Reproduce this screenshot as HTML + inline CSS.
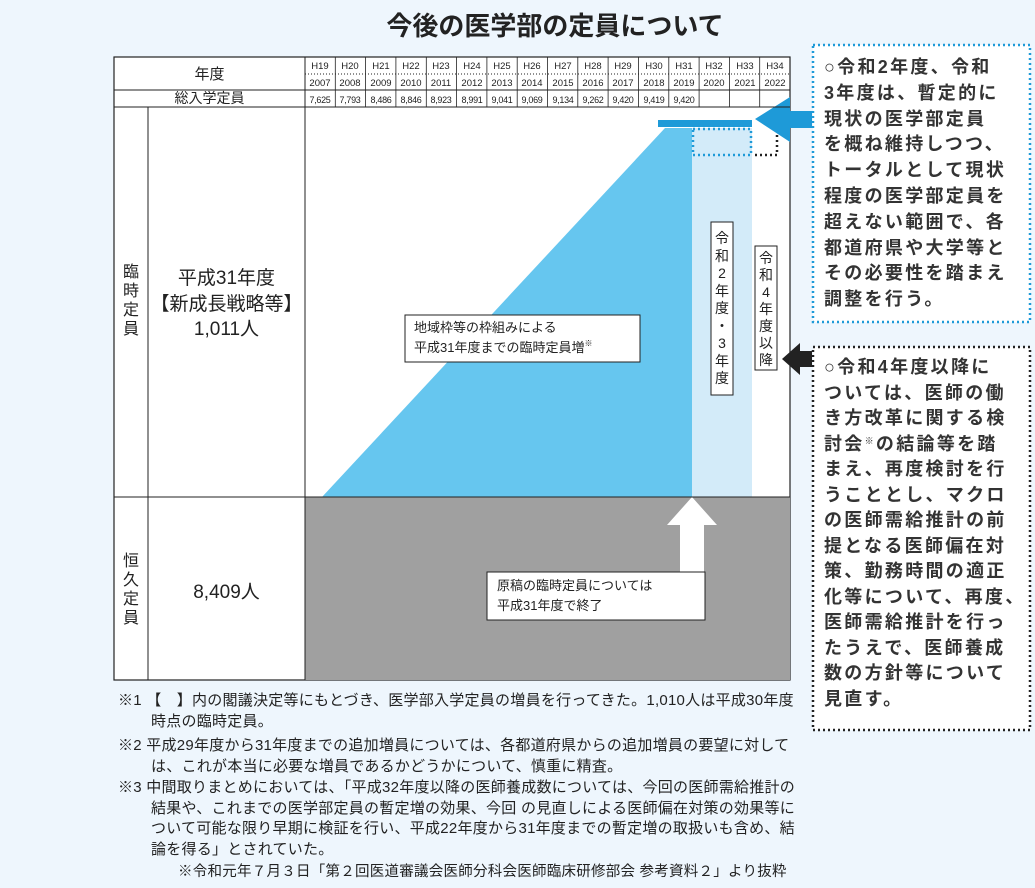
<!DOCTYPE html>
<html><head><meta charset="utf-8"><style>
body{margin:0;width:1035px;height:888px;background:#eef6fd;position:relative;overflow:hidden;font-family:"Liberation Sans","Noto Sans CJK JP",sans-serif;color:#222}
.a{position:absolute}
.fn{position:absolute;left:118px;font-size:15px;line-height:20.5px;width:700px;white-space:nowrap;letter-spacing:0.25px}
.rb{position:absolute;left:824px;font-size:18px;line-height:25.8px;font-weight:bold;color:#333;letter-spacing:2.3px;white-space:nowrap}
sup{line-height:0;vertical-align:6px}
</style></head><body>
<div class="a" style="left:0;width:1110px;top:6px;text-align:center;font-size:26px;font-weight:bold;color:#222">今後の医学部の定員について</div>
<svg class="a" style="left:0;top:0" width="1035" height="888" xmlns="http://www.w3.org/2000/svg">
<rect x="114" y="57" width="676" height="623" fill="#fff" stroke="#222" stroke-width="1.2"/>
<rect x="305" y="497" width="485" height="183" fill="#a0a0a0"/>
<polygon points="322,497 665,128 692,128 692,497" fill="#66c6ef"/>
<rect x="692" y="128" width="60" height="369" fill="#d3ebf9"/>
<rect x="658" y="120" width="94" height="7" fill="#1e9ad8"/>
<rect x="693" y="129" width="58" height="26" fill="none" stroke="#1e9ad8" stroke-width="2.5" stroke-dasharray="2,3"/>
<path d="M777,130 V155 H754" fill="none" stroke="#222" stroke-width="2.5" stroke-dasharray="2,3"/>
<path d="M755,119 L790,97 V111 H812 V128 H790 V142 Z" fill="#1e9ad8"/>
<path d="M782,359 L800,343 V351 H812 V367 H800 V375 Z" fill="#222"/>
<path d="M692,497 L717,525 H704 V572 H680 V525 H667 Z" fill="#fff"/>
<g stroke="#222" stroke-width="1" fill="none">
<line x1="114" y1="90" x2="790" y2="90"/><line x1="114" y1="107" x2="790" y2="107"/>
<line x1="114" y1="497" x2="790" y2="497"/>
<line x1="305" y1="57" x2="305" y2="680"/><line x1="148" y1="107" x2="148" y2="680"/>
</g>
<g stroke="#222" stroke-width="0.8">
<line x1="335.3" y1="57" x2="335.3" y2="107"/><line x1="365.6" y1="57" x2="365.6" y2="107"/><line x1="395.9" y1="57" x2="395.9" y2="107"/><line x1="426.3" y1="57" x2="426.3" y2="107"/><line x1="456.6" y1="57" x2="456.6" y2="107"/><line x1="486.9" y1="57" x2="486.9" y2="107"/><line x1="517.2" y1="57" x2="517.2" y2="107"/><line x1="547.5" y1="57" x2="547.5" y2="107"/><line x1="577.8" y1="57" x2="577.8" y2="107"/><line x1="608.1" y1="57" x2="608.1" y2="107"/><line x1="638.4" y1="57" x2="638.4" y2="107"/><line x1="668.8" y1="57" x2="668.8" y2="107"/><line x1="699.1" y1="57" x2="699.1" y2="107"/><line x1="729.4" y1="57" x2="729.4" y2="107"/><line x1="759.7" y1="57" x2="759.7" y2="107"/>
</g>
<line x1="305" y1="74" x2="790" y2="74" stroke="#222" stroke-width="1" stroke-dasharray="1,2"/>
<g font-size="9.5" text-anchor="middle" fill="#222">
<text x="320" y="69">H19</text><text x="350" y="69">H20</text><text x="381" y="69">H21</text><text x="411" y="69">H22</text><text x="441" y="69">H23</text><text x="472" y="69">H24</text><text x="502" y="69">H25</text><text x="532" y="69">H26</text><text x="563" y="69">H27</text><text x="593" y="69">H28</text><text x="623" y="69">H29</text><text x="654" y="69">H30</text><text x="684" y="69">H31</text><text x="714" y="69">H32</text><text x="745" y="69">H33</text><text x="775" y="69">H34</text>
<text x="320" y="86">2007</text><text x="350" y="86">2008</text><text x="381" y="86">2009</text><text x="411" y="86">2010</text><text x="441" y="86">2011</text><text x="472" y="86">2012</text><text x="502" y="86">2013</text><text x="532" y="86">2014</text><text x="563" y="86">2015</text><text x="593" y="86">2016</text><text x="623" y="86">2017</text><text x="654" y="86">2018</text><text x="684" y="86">2019</text><text x="714" y="86">2020</text><text x="745" y="86">2021</text><text x="775" y="86">2022</text>
</g>
<g font-size="9" text-anchor="middle" fill="#222" letter-spacing="-0.3">
<text x="320" y="103">7,625</text><text x="350" y="103">7,793</text><text x="381" y="103">8,486</text><text x="411" y="103">8,846</text><text x="441" y="103">8,923</text><text x="472" y="103">8,991</text><text x="502" y="103">9,041</text><text x="532" y="103">9,069</text><text x="563" y="103">9,134</text><text x="593" y="103">9,262</text><text x="623" y="103">9,420</text><text x="654" y="103">9,419</text><text x="684" y="103">9,420</text>
</g>
<rect x="813" y="45" width="217" height="277" fill="#fff" stroke="#1e9ad8" stroke-width="2.5" stroke-dasharray="2,3"/>
<rect x="813" y="347" width="217" height="383" fill="#fff" stroke="#222" stroke-width="2.5" stroke-dasharray="2,3"/>
<rect x="405" y="315" width="235" height="47" fill="#fff" stroke="#222"/>
<rect x="487" y="572" width="218" height="48" fill="#fff" stroke="#222"/>
<rect x="711" y="222" width="22" height="173" fill="#fff" stroke="#222"/>
<rect x="755" y="246" width="22" height="124" fill="#fff" stroke="#222"/>
</svg>
<div class="a" style="left:114px;width:191px;top:63px;text-align:center;font-size:15px">年度</div>
<div class="a" style="left:114px;width:191px;top:90px;text-align:center;font-size:14px;line-height:17px">総入学定員</div>
<div class="a" style="left:114px;width:34px;top:263px;text-align:center;font-size:16px;line-height:19px">臨<br>時<br>定<br>員</div>
<div class="a" style="left:148px;width:157px;top:266px;text-align:center;font-size:19px;line-height:25.5px">平成31年度<br>【新成長戦略等】<br>1,011人</div>
<div class="a" style="left:114px;width:34px;top:552px;text-align:center;font-size:16px;line-height:19px">恒<br>久<br>定<br>員</div>
<div class="a" style="left:148px;width:157px;top:577px;text-align:center;font-size:19px">8,409人</div>
<div class="a" style="left:414px;top:318px;font-size:13px;line-height:20px">地域枠等の枠組みによる<br>平成31年度までの臨時定員増<sup style="font-size:8px">※</sup></div>
<div class="a" style="left:497px;top:576px;font-size:13px;line-height:20px">原稿の臨時定員については<br>平成31年度で終了</div>
<div class="a" style="left:711px;width:22px;top:230px;text-align:center;font-size:14px;line-height:17.5px">令<br>和<br>2<br>年<br>度<br>・<br>3<br>年<br>度</div>
<div class="a" style="left:755px;width:22px;top:250px;text-align:center;font-size:14px;line-height:17px">令<br>和<br>4<br>年<br>度<br>以<br>降</div>
<div class="rb" style="top:55px">○令和2年度、令和<br>3年度は、暫定的に<br>現状の医学部定員<br>を概ね維持しつつ、<br>トータルとして現状<br>程度の医学部定員を<br>超えない範囲で、各<br>都道府県や大学等と<br>その必要性を踏まえ<br>調整を行う。</div>
<div class="rb" style="top:355px;line-height:25.5px">○令和4年度以降に<br>ついては、医師の働<br>き方改革に関する検<br>討会<sup style="font-size:9px">※</sup>の結論等を踏<br>まえ、再度検討を行<br>うこととし、マクロ<br>の医師需給推計の前<br>提となる医師偏在対<br>策、勤務時間の適正<br>化等について、再度、<br>医師需給推計を行っ<br>たうえで、医師養成<br>数の方針等について<br>見直す。</div>
<div class="fn" style="top:691px">※1 【　】内の閣議決定等にもとづき、医学部入学定員の増員を行ってきた。1,010人は平成30年度<br><span style="padding-left:33px">時点の臨時定員。</span></div>
<div class="fn" style="top:736px">※2 平成29年度から31年度までの追加増員については、各都道府県からの追加増員の要望に対して<br><span style="padding-left:33px">は、これが本当に必要な増員であるかどうかについて、慎重に精査。</span></div>
<div class="fn" style="top:778px">※3 中間取りまとめにおいては、「平成32年度以降の医師養成数については、今回の医師需給推計の<br><span style="padding-left:33px">結果や、これまでの医学部定員の暫定増の効果、今回 の見直しによる医師偏在対策の効果等に</span><br><span style="padding-left:33px">ついて可能な限り早期に検証を行い、平成22年度から31年度までの暫定増の取扱いも含め、結</span><br><span style="padding-left:33px">論を得る」とされていた。</span></div>
<div class="fn" style="top:862px;left:178px;font-size:14.5px">※令和元年７月３日「第２回医道審議会医師分科会医師臨床研修部会 参考資料２」より抜粋</div>
</body></html>
